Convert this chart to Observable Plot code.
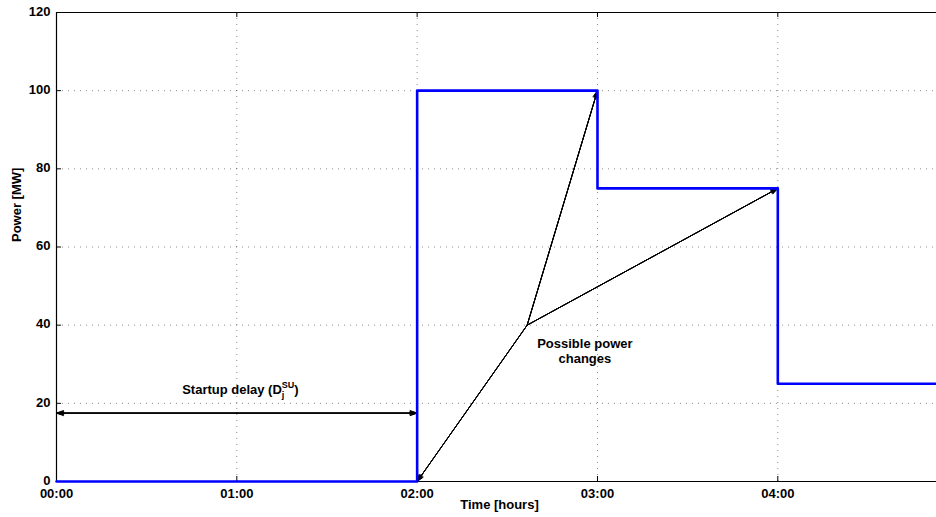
<!DOCTYPE html>
<html><head><meta charset="utf-8">
<script src="https://cdn.jsdelivr.net/npm/d3@7"></script>
<script src="https://cdn.jsdelivr.net/npm/@observablehq/plot@0.6"></script>
<style>body{margin:0;background:#fff} svg{display:block}</style>
</head><body><div id="chart"></div>
<script>
// Step profile of the unit's power
const stepHours = [0, 2, 3, 4, 4.88];
const stepPower = [0, 100, 75, 25, 25];
// Axes
const xDomain = [0, 4.88];
const yDomain = [0, 120];
const xTicks = [0, 1, 2, 3, 4];
const xTickLabels = ["00:00", "01:00", "02:00", "03:00", "04:00"];
const yTicks = [0, 20, 40, 60, 80, 100, 120];
// Annotation arrows ("Possible power changes")
const originHour = 2.61, originPower = 40;
const targetHours = [2, 3, 4];
const targetPowers = [0, 100, 75];
// Startup delay double arrow
const delayStart = 0, delayEnd = 2, delayPower = 17.5;
const delayLabel = "Startup delay (D)";
const delayLabelHour = 1.02, delayLabelPower = 23.5;
const changesLabel = "Possible power\nchanges";
const changesLabelHour = 2.93, changesLabelPower = 33.5;

const profile = stepHours.map((h, i) => ({hour: h, power: stepPower[i]}));
const arrows = targetHours.map((h, i) => ({x1: originHour, y1: originPower, x2: h, y2: targetPowers[i]}));
const mid = (delayStart + delayEnd) / 2;
const delayArrows = [
  {x1: mid, y1: delayPower, x2: delayStart, y2: delayPower},
  {x1: mid, y1: delayPower, x2: delayEnd, y2: delayPower}
];
const xt = 5 / 180.5, yt = 5 / 3.908;
const headAngles = [40, 30, 20, 10];

const chart = Plot.plot({
  width: 936, height: 517,
  marginLeft: 56, marginRight: 0, marginTop: 12, marginBottom: 36,
  style: {fontFamily: "'Liberation Sans', Arial, sans-serif", fontSize: "13px", fontWeight: "bold", color: "#000", background: "#fff"},
  x: {domain: xDomain},
  y: {domain: yDomain},
  marks: [
    Plot.ruleX(xTicks, {stroke: "#000", strokeOpacity: 0.45, strokeDasharray: "1,5"}),
    Plot.ruleY(yTicks, {stroke: "#000", strokeOpacity: 0.45, strokeDasharray: "1,5"}),
    // box
    Plot.ruleY([yDomain[0], yDomain[1]], {stroke: "#000", strokeWidth: 1.2}),
    Plot.ruleX([xDomain[0]], {stroke: "#000", strokeWidth: 1.2}),
    // inward ticks
    Plot.ruleX(xTicks, {y1: yDomain[0], y2: yDomain[0] + yt, stroke: "#000"}),
    Plot.ruleX(xTicks, {y1: yDomain[1], y2: yDomain[1] - yt, stroke: "#000"}),
    Plot.ruleY(yTicks, {x1: xDomain[0], x2: xDomain[0] + xt, stroke: "#000"}),
    Plot.axisX({ticks: xTicks, tickFormat: (d) => xTickLabels[xTicks.indexOf(d)], tickSize: 0, tickPadding: 7, label: null}),
    Plot.axisY({ticks: yTicks, tickSize: 0, tickPadding: 6, label: null, dy: -1}),
    Plot.text(["Power [MW]"], {frameAnchor: "left", dx: -40, dy: -5, rotate: -90, text: d => d}),
    Plot.text(["Time [hours]"], {frameAnchor: "bottom", dx: 3, dy: 27, text: d => d}),
    // arrows
    ...headAngles.map(a => Plot.arrow(arrows, {x1: "x1", y1: "y1", x2: "x2", y2: "y2", stroke: "#000", strokeWidth: 1, headLength: 11, headAngle: a})),
    ...headAngles.map(a => Plot.arrow(delayArrows, {x1: "x1", y1: "y1", x2: "x2", y2: "y2", stroke: "#000", strokeWidth: 1, headLength: 11, headAngle: a})),
    // power profile
    Plot.line(profile, {x: "hour", y: "power", curve: "step-after", stroke: "#0000ff", strokeWidth: 2.6}),
    Plot.text([changesLabel], {x: changesLabelHour, y: changesLabelPower, text: d => d, lineHeight: 1.2}),
    Plot.text([delayLabel], {x: delayLabelHour, y: delayLabelPower, text: d => d})
  ]
});
document.getElementById("chart").appendChild(chart);

// Sub/superscript for the startup delay label
d3.select(chart).selectAll("text").filter(function () { return this.textContent === delayLabel; })
  .each(function () {
    const t = d3.select(this);
    t.text(null);
    t.append("tspan").text("Startup delay (D");
    t.append("tspan").attr("dy", "4").attr("font-size", "9px").text("j");
    t.append("tspan").attr("dx", "-2.5").attr("dy", "-10").attr("font-size", "9px").text("SU");
    t.append("tspan").attr("dy", "6").text(")");
  });
</script>
</body></html>
